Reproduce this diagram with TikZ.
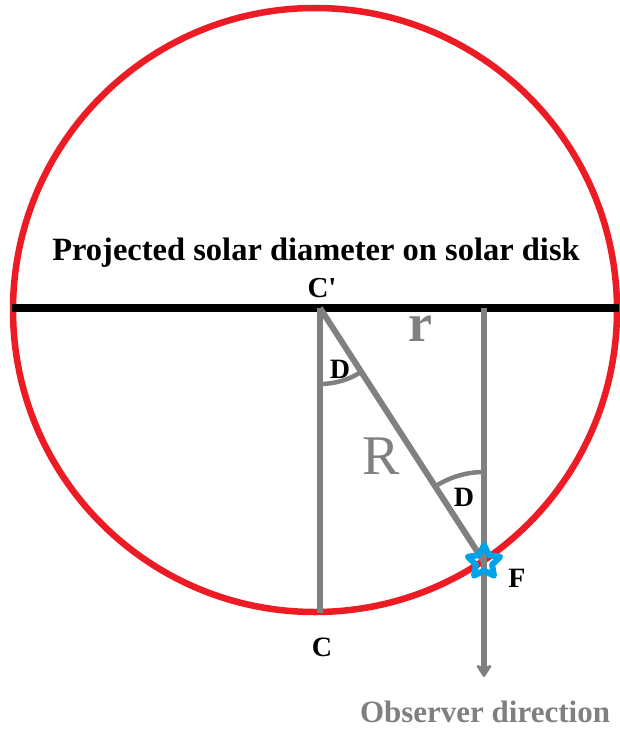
\documentclass[tikz,border=0pt]{standalone}
\usepackage{fontspec}
\setmainfont{Liberation Serif}
\usetikzlibrary{arrows.meta,shapes.geometric,angles}
\definecolor{sunred}{HTML}{ED1C24}
\definecolor{linegray}{HTML}{808080}
\definecolor{starblue}{HTML}{00A2E8}
\tikzset{
  lbl/.style={font=\bfseries\fontsize{28}{30}\selectfont, text=black, inner sep=0pt},
  bigl/.style={font=\fontsize{56}{60}\selectfont, text=linegray, inner sep=0pt},
  grayline/.style={draw=linegray, line width=6pt},
  anglearc/.style={draw=linegray, line width=4.5pt},
}
\begin{document}
\begin{tikzpicture}[x=1pt,y=1pt]
\useasboundingbox (0,0) rectangle (619,-730);
% geometry
\coordinate (O) at (315,-310);
\coordinate (L) at (12,-308);
\coordinate (Rt) at (619,-308);
\coordinate (Cp) at (320,-308);
\coordinate (C) at (320,-613);
\coordinate (T) at (484,-308);
\coordinate (F) at (484,-562);
\coordinate (E) at (484,-677);
% circle
\draw[sunred, line width=6.5pt] (O) circle[radius=302];
% diameter
\draw[black, line width=8pt] (L) -- (Rt);
% gray lines
\draw[grayline] (Cp) -- (C);
\draw[grayline] (Cp) -- (F);
\draw[grayline, -{Stealth[length=15pt,width=19pt,inset=5pt,round]}] (T) -- (E);
% angle arcs
\pic[anglearc, angle radius=76pt] {angle = C--Cp--F};
\pic[anglearc, angle radius=90pt] {angle = T--F--Cp};
% star
\node[star, star points=5, star point ratio=2.0, minimum size=34pt, inner sep=0pt, draw=starblue, line width=6pt, line join=round] (star) at (F) {};
% labels
\node[lbl, font=\bfseries\fontsize{32.5}{34}\selectfont] (title) at (316,-253) {Projected solar diameter on solar disk};
\node[lbl, font=\bfseries\fontsize{29}{31}\selectfont] (cpl) at (322,-288) {C\textquotesingle};
\node[bigl, font=\bfseries\fontsize{54}{58}\selectfont] (rl) at (420,-329) {r};
\node[bigl] (Rl) at (381,-456) {R};
\node[lbl] (d1) at (340,-369) {D};
\node[lbl] (d2) at (464,-497) {D};
\node[lbl] (fl) at (517,-578) {F};
\node[lbl] (cl) at (322,-647) {C};
\node[lbl, text=linegray, font=\bfseries\fontsize{31}{33}\selectfont] (obs) at (485,-712) {Observer direction};
\end{tikzpicture}
\end{document}
